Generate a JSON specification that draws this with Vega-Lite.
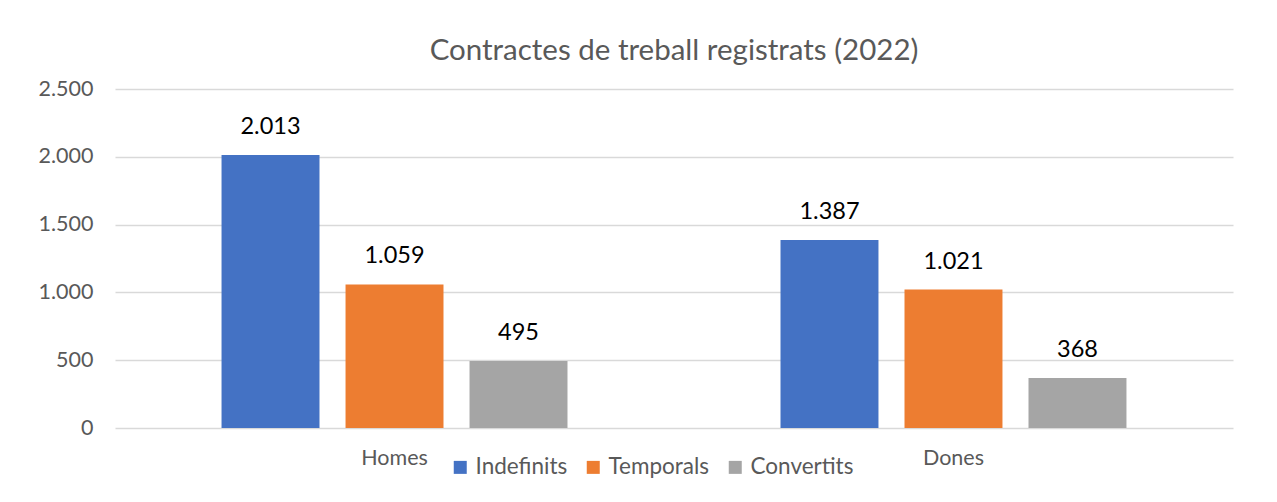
{
  "$schema": "https://vega.github.io/schema/vega-lite/v6.json",
  "width": 1118,
  "height": 339,
  "autosize": "none",
  "padding": {"left": 115, "top": 89, "right": 44, "bottom": 74},
  "background": "white",
  "config": {
    "locale": {"number": {"decimal": ",", "thousands": ".", "grouping": [3], "currency": ["", " €"]}},
    "view": {"stroke": null},
    "font": "Lato"
  },
  "title": {"text": "Contractes de treball registrats (2022)", "fontSize": 29.5, "fontWeight": "normal", "color": "#595959", "anchor": "middle", "offset": 12},
  "data": {"values": [
    {"grup": "Homes", "tipus": "Indefinits", "valor": 2013},
    {"grup": "Homes", "tipus": "Temporals", "valor": 1059},
    {"grup": "Homes", "tipus": "Convertits", "valor": 495},
    {"grup": "Dones", "tipus": "Indefinits", "valor": 1387},
    {"grup": "Dones", "tipus": "Temporals", "valor": 1021},
    {"grup": "Dones", "tipus": "Convertits", "valor": 368}
  ]},
  "encoding": {
    "x": {"field": "grup", "type": "nominal", "sort": ["Homes", "Dones"],
      "scale": {"paddingInner": 0.3345, "paddingOuter": 0.1673},
      "axis": {"title": null, "labelAngle": 0, "domain": false, "ticks": false, "labelFontSize": 21.5, "labelColor": "#595959", "labelPadding": 19, "grid": false}},
    "xOffset": {"field": "tipus", "type": "nominal", "sort": ["Indefinits", "Temporals", "Convertits"],
      "scale": {"paddingInner": 0.21, "paddingOuter": 0.105}},
    "y": {"field": "valor", "type": "quantitative", "scale": {"domain": [0, 2500]},
      "axis": {"title": null, "values": [0, 500, 1000, 1500, 2000, 2500], "format": ",d", "domain": false, "ticks": false,
        "labelFontSize": 21.5, "labelColor": "#595959", "labelPadding": 22, "gridColor": "#d9d9d9", "gridWidth": 1.5, "gridOpacity": 1}}
  },
  "layer": [
    {
      "mark": {"type": "bar"},
      "encoding": {
        "color": {"field": "tipus", "type": "nominal", "sort": ["Indefinits", "Temporals", "Convertits"],
          "scale": {"domain": ["Indefinits", "Temporals", "Convertits"], "range": ["#4472C4", "#ED7D31", "#A5A5A5"]},
          "legend": {"title": null, "orient": "none", "legendX": 334, "legendY": 367, "direction": "horizontal",
            "symbolType": "square", "symbolSize": 169, "symbolStrokeWidth": 0, "symbolOpacity": 1,
            "labelFontSize": 22.5, "labelColor": "#595959", "columnPadding": 14, "labelOffset": 4}}
      }
    },
    {
      "mark": {"type": "text", "baseline": "alphabetic", "dy": -21, "fontSize": 23.5, "color": "#000000"},
      "encoding": {"text": {"field": "valor", "type": "quantitative", "format": ",d"}}
    }
  ]
}
